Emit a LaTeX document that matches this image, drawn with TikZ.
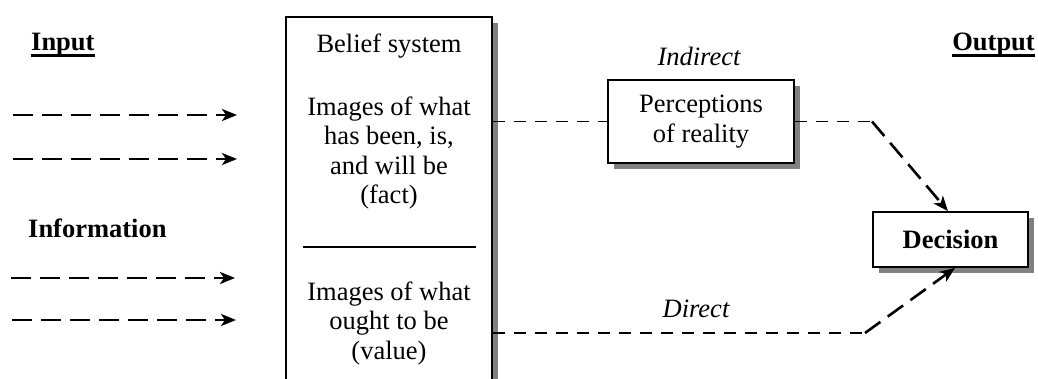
\documentclass[tikz,border=0pt]{standalone}
\usepackage{fontspec}
\setmainfont{Liberation Serif}
\usetikzlibrary{arrows.meta,shadows}
\definecolor{shade}{HTML}{808080}
\newcommand\bodysize{\fontsize{26.5}{29.5}\selectfont}
% heavy underline for the column headings
\newcommand\thickul[1]{\setbox0\hbox{#1}\rlap{\rule[-7pt]{\wd0}{3pt}}\box0}
\begin{document}
\begin{tikzpicture}[x=1pt,y=-1pt,
  txt/.style={inner sep=0pt, font=\bodysize},
  boxed/.style={draw, line width=1.8pt, fill=white,
    drop shadow={shadow xshift=6pt, shadow yshift=-6pt, fill=shade, opacity=1}},
  feed/.style={line width=2.6pt, dash pattern=on 20pt off 9pt,
    -{Stealth[length=15pt,width=12pt,inset=4pt]}},
  link/.style={line width=1.6pt, dash pattern=on 12pt off 9pt},
  toward/.style={line width=2.6pt, dash pattern=on 19pt off 9pt,
    -{Stealth[length=15pt,width=12pt,inset=4pt]}}]
\useasboundingbox (0,0) rectangle (1038,378);
\clip (0,0) rectangle (1038,378);

% headings
\node[txt, font=\bodysize\bfseries, anchor=base west] (inp) at (31,50) {\thickul{Input}};
\node[txt, font=\bodysize\bfseries, anchor=base east] (outp) at (1035,50) {\thickul{Output}};
\node[txt, font=\bodysize\bfseries, anchor=base west] (info) at (28,237) {Information};

% incoming information
\coordinate (i1s) at (13,115);  \coordinate (i1e) at (237,115);
\coordinate (i2s) at (13,159);  \coordinate (i2e) at (237,159);
\coordinate (i3s) at (11,278);  \coordinate (i3e) at (235,278);
\coordinate (i4s) at (12,320);  \coordinate (i4e) at (236,320);
\draw[feed] (i1s) -- (i1e);
\draw[feed] (i2s) -- (i2e);
\draw[feed] (i3s) -- (i3e);
\draw[feed] (i4s) -- (i4e);

% belief system column (multi-line nodes sit on their last baseline)
\node[boxed, minimum width=206, minimum height=400, anchor=north] (belief) at (389,16) {};
\node[txt, anchor=base] (bs) at (389,52) {Belief system};
\node[txt, anchor=base, align=center] (fact) at (389,203.5) {Images of what\\has been, is,\\and will be\\(fact)};
\draw[line width=1.7pt] (303,247) -- (476,247);
\node[txt, anchor=base, align=center] (val) at (389,359) {Images of what\\ought to be\\(value)};

% perception and decision
\node[boxed, minimum width=186, minimum height=83, align=center, font=\bodysize] (perc) at (701,121.5) {Perceptions\\of reality};
\node[boxed, minimum width=155, minimum height=55, font=\bodysize\bfseries] (dec) at (950.5,239.5) {Decision};

\node[txt, font=\bodysize\itshape, anchor=base] (ind) at (699,65) {Indirect};
\node[txt, font=\bodysize\itshape, anchor=base] (dir) at (696,317) {Direct};

% paths to the decision
\coordinate (k1) at (872,121.5);
\coordinate (k2) at (865,333);
\draw[link] (belief.east |- perc.west) -- (perc.west);
\draw[link] (perc.east) -- (k1);
\draw[toward] (k1) -- ([xshift=-2.5pt]dec.north);
\draw[link] (belief.east |- k2) -- (k2);
\draw[toward] (k2) -- ([xshift=4.5pt]dec.south);
\end{tikzpicture}
\end{document}
